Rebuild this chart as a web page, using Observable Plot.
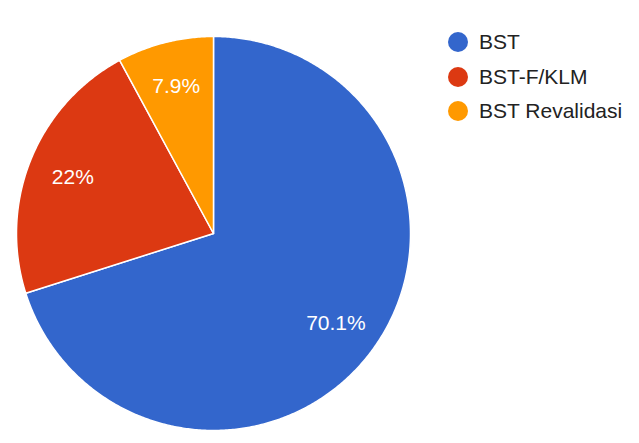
<!DOCTYPE html>
<html>
<head>
<meta charset="utf-8">
<script src="https://cdn.jsdelivr.net/npm/d3@7"></script>
<script src="https://cdn.jsdelivr.net/npm/@observablehq/plot@0.6"></script>
<style>
  body { margin: 0; background: #fff; }
  #wrap { position: relative; width: 639px; height: 443px; font-family: "Liberation Sans", Arial, sans-serif; }
  #legend { position: absolute; left: 448px; top: 25px; }
  .item { display: flex; align-items: center; height: 34.5px; font-size: 21px; color: #222; }
  .sw { width: 20px; height: 20px; border-radius: 50%; margin-right: 11px; }
</style>
</head>
<body>
<div id="wrap"></div>
<script>
const categories = ["BST", "BST-F/KLM", "BST Revalidasi"];
const values = [70.1, 22, 7.9];
const labels = ["70.1%", "22%", "7.9%"];
const colors = ["#3366CC", "#DC3912", "#FF9900"];

const data = categories.map((c, i) => ({key: c, value: values[i], label: labels[i]}));
const arcs = d3.pie().sort(null).value(d => d.value).startAngle(0).endAngle(2 * Math.PI)(data);

// polygon points for each slice (center + arc), derived from pie angles
const pts = [];
arcs.forEach(a => {
  pts.push({key: a.data.key, x: 0, y: 0});
  const n = Math.max(2, Math.ceil((a.endAngle - a.startAngle) / (Math.PI / 360)));
  for (let k = 0; k <= n; k++) {
    const t = a.startAngle + (a.endAngle - a.startAngle) * k / n;
    pts.push({key: a.data.key, x: Math.sin(t), y: Math.cos(t)});
  }
});
const labelR = 0.77;
const labelPts = arcs.map(a => {
  const m = (a.startAngle + a.endAngle) / 2;
  return {label: a.data.label, x: labelR * Math.sin(m), y: labelR * Math.cos(m)};
});

const plot = Plot.plot({
  width: 639,
  height: 443,
  margin: 0,
  x: {domain: [-1, 1], range: [16, 410], axis: null},
  y: {domain: [-1, 1], range: [430, 36], axis: null},
  color: {domain: categories, range: colors},
  style: {background: "#fff", fontFamily: "'Liberation Sans', Arial, sans-serif"},
  marks: [
    Plot.line(pts, {x: "x", y: "y", z: "key", fill: "key", stroke: "white", strokeWidth: 1.5, strokeLinejoin: "round", curve: "linear-closed"}),
    Plot.text(labelPts, {x: "x", y: "y", text: "label", fill: "white", fontSize: 21})
  ]
});
const wrap = document.getElementById("wrap");
wrap.appendChild(plot);

const legend = document.createElement("div");
legend.id = "legend";
categories.forEach((c, i) => {
  const it = document.createElement("div");
  it.className = "item";
  const sw = document.createElement("span");
  sw.className = "sw";
  sw.style.background = colors[i];
  const tx = document.createElement("span");
  tx.textContent = c;
  it.appendChild(sw);
  it.appendChild(tx);
  legend.appendChild(it);
});
wrap.appendChild(legend);
</script>
</body>
</html>
